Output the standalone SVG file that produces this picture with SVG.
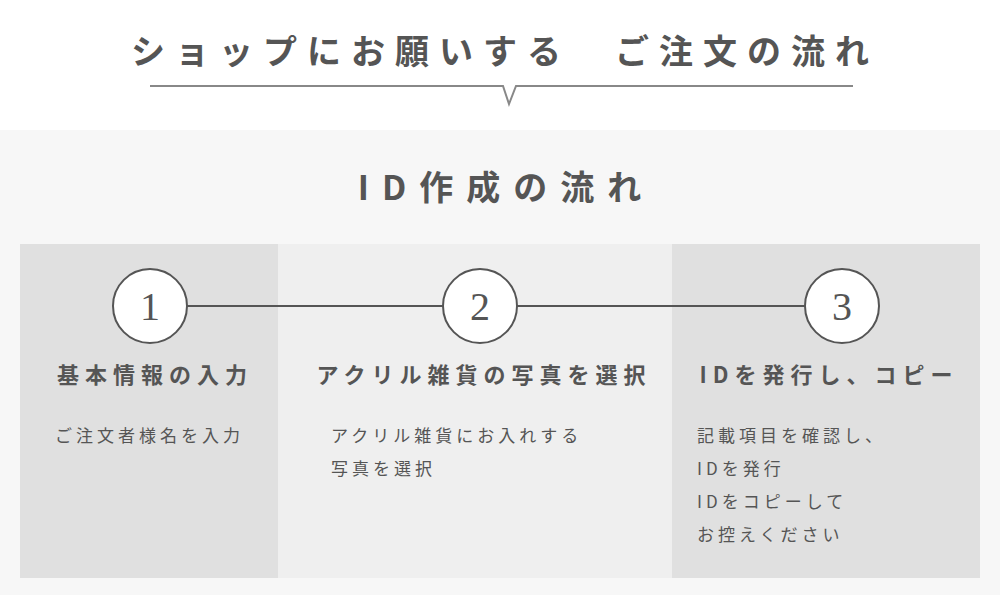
<svg xmlns="http://www.w3.org/2000/svg" width="1000" height="595" viewBox="0 0 1000 595">
<style>
text{font-family:"Noto Sans CJK JP","Noto Sans",sans-serif;fill:#555}
.h{font-size:22px;font-weight:bold;letter-spacing:6px;text-anchor:middle}
.b{font-size:17px;letter-spacing:4px}
.num{font-family:"Liberation Serif",serif;font-size:40px;text-anchor:middle;fill:#555}
.c{fill:#fff;stroke:#555;stroke-width:2}
</style>
<rect width="1000" height="595" fill="#fff"/>
<text x="505" y="64" style="font-size:34px;font-weight:bold;letter-spacing:10px;fill:#555" text-anchor="middle">ショップにお願いする　ご注文の流れ</text>
<path d="M150 86 H503 L509 104 L516 86 H853" fill="none" stroke="#888" stroke-width="2"/>
<rect y="130" width="1000" height="465" fill="#f7f7f7"/>
<text x="506" y="200" style="font-size:34px;font-weight:bold;letter-spacing:13px" text-anchor="middle">ID作成の流れ</text>
<rect x="20" y="244" width="258" height="334" fill="#e0e0e0"/>
<rect x="278" y="244" width="394" height="334" fill="#efefef"/>
<rect x="672" y="244" width="308" height="334" fill="#e0e0e0"/>
<g id="connectors"><line x1="187" y1="306" x2="805" y2="306" stroke="#555" stroke-width="2"/></g>
<g id="step1"><circle class="c" cx="150" cy="306" r="37"/><text class="num" x="150" y="320">1</text>
<text class="h" x="155" y="383">基本情報の入力</text>
<text class="b" x="55" y="442">ご注文者様名を入力</text></g>
<g id="step2"><circle class="c" cx="480" cy="306" r="37"/><text class="num" x="480" y="320">2</text>
<text class="h" x="484" y="383">アクリル雑貨の写真を選択</text>
<text class="b" x="331" y="442">アクリル雑貨にお入れする</text>
<text class="b" x="331" y="475">写真を選択</text></g>
<g id="step3"><circle class="c" cx="842" cy="306" r="37"/><text class="num" x="842" y="320">3</text>
<text class="h" x="829" y="383">IDを発行し、コピー</text>
<text class="b" x="697" y="442">記載項目を確認し、</text>
<text class="b" x="697" y="475">IDを発行</text>
<text class="b" x="697" y="508">IDをコピーして</text>
<text class="b" x="697" y="541">お控えください</text></g>
</svg>
